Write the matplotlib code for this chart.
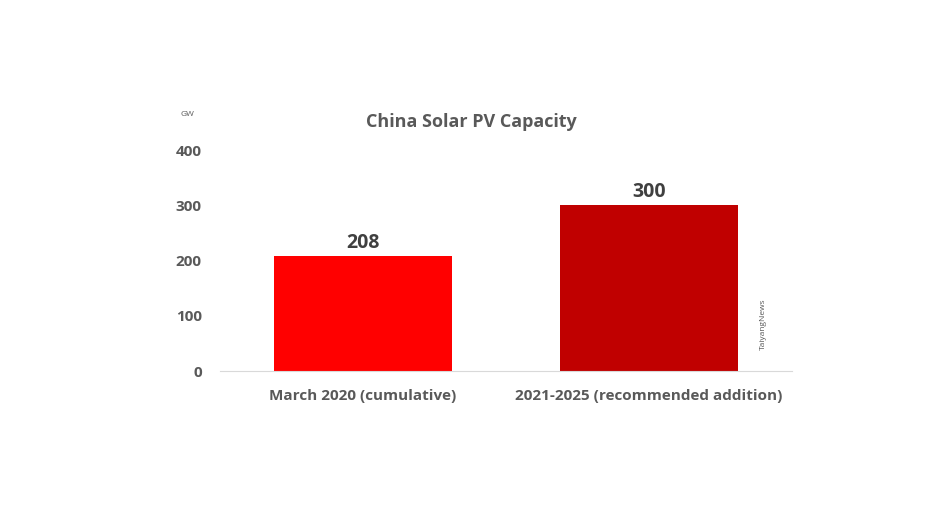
import numpy as np
from matplotlib import pyplot as plt

plt.rcParams['font.family'] = ['Open Sans', 'DejaVu Sans']

# Data
categories = ['March 2020 (cumulative)', '2021-2025 (recommended addition)']
capacity   = [208, 300]   # GW
colors     = ['#FF0000', '#C00000']
grey       = '#595959'

fig = plt.figure(figsize=(9.44, 5.31), dpi=100)
ax  = fig.add_axes([0.233, 0.301, 0.606, 0.4165])

x = np.arange(len(categories))
bars = ax.bar(x, capacity, width=0.62, color=colors)

for b, v in zip(bars, capacity):
    ax.text(b.get_x() + b.get_width()/2, v + 6, str(v), ha='center', va='bottom',
            fontsize=14, fontweight='bold', color='#404040')

ax.set_xlim(-0.5, 1.5)
ax.set_ylim(0, 400)
ax.set_yticks([0, 100, 200, 300, 400])
ax.set_xticks(x)
ax.set_xticklabels(categories, fontsize=11, fontweight='bold', color=grey)
for lbl in ax.get_yticklabels():
    lbl.set_fontsize(11)
    lbl.set_fontweight('bold')
    lbl.set_color(grey)

for s in ['top', 'right', 'left']:
    ax.spines[s].set_visible(False)
ax.spines['bottom'].set_color('#D9D9D9')
ax.tick_params(axis='both', length=0)
ax.tick_params(axis='y', pad=13)
ax.tick_params(axis='x', pad=13)

fig.text(0.499, 0.77, 'China Solar PV Capacity', ha='center', va='center',
         fontsize=13, fontweight='bold', color=grey)
fig.text(0.199, 0.785, 'GW', ha='center', va='center', fontsize=6, color=grey)
fig.text(0.809, 0.39, 'TaiyangNews', ha='center', va='center', rotation=90,
         fontsize=6, color=grey)

plt.savefig('out.png', dpi=100)
